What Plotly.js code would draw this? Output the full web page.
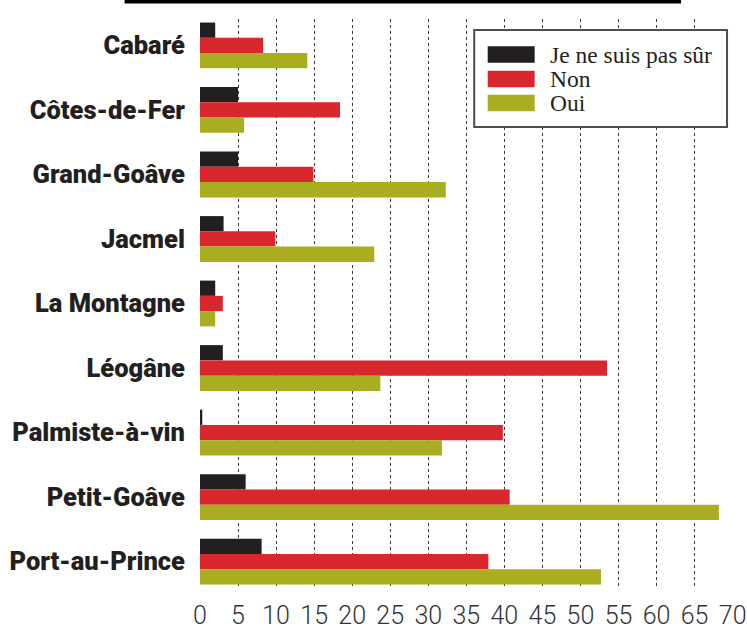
<!DOCTYPE html>
<html>
<head>
<meta charset="utf-8">
<script src="https://cdn.plot.ly/plotly-3.0.1.min.js"></script>
<style>
  html, body { margin: 0; padding: 0; background: #ffffff; }
  #chart { width: 747px; height: 630px; }
</style>
</head>
<body>
<div id="chart"></div>
<script>
const categories = ["Cabaré", "Côtes-de-Fer", "Grand-Goâve", "Jacmel", "La Montagne", "Léogâne", "Palmiste-à-vin", "Petit-Goâve", "Port-au-Prince"];
const seriesNames = ["Je ne suis pas sûr", "Non", "Oui"];
const valuesNotSure = [2, 5, 5, 3.1, 2, 3, 0.3, 6, 8.1];
const valuesNon = [8.3, 18.4, 14.9, 9.9, 3, 53.5, 39.8, 40.7, 37.9];
const valuesOui = [14.1, 5.8, 32.3, 22.9, 2, 23.7, 31.8, 68.2, 52.7];
const xTicks = [0, 5, 10, 15, 20, 25, 30, 35, 40, 45, 50, 55, 60, 65, 70];
const seriesColors = ["#231f20", "#d9272e", "#a8ae20"];

const seriesValues = [valuesNotSure, valuesNon, valuesOui];
const traces = seriesValues.map((vals, i) => ({
  type: "bar",
  orientation: "h",
  name: seriesNames[i],
  y: categories,
  x: vals,
  marker: { color: seriesColors[i], line: { width: 0 } },
  hoverinfo: "x+y+name"
}));

// manual legend (wide swatches like the reference)
const legendRows = [0.9376, 0.8946, 0.8524];
const shapes = [
  { type: "line", xref: "paper", yref: "paper", x0: -0.1415, x1: 0.9025, y0: 1.0308, y1: 1.0308,
    line: { color: "#000000", width: 4 } },
  { type: "rect", xref: "paper", yref: "paper", x0: 0.5145, x1: 0.9888, y0: 0.8102, y1: 0.9807,
    fillcolor: "#ffffff", line: { color: "#4d4d4d", width: 2 }, layer: "above" }
];
const annotations = [];
seriesNames.forEach((name, i) => {
  shapes.push({ type: "rect", xref: "paper", yref: "paper", x0: 0.5398, x1: 0.6279,
    y0: legendRows[i] - 0.0145, y1: legendRows[i] + 0.0145,
    fillcolor: seriesColors[i], line: { width: 0 }, layer: "above" });
  annotations.push({ xref: "paper", yref: "paper", x: 0.652, y: legendRows[i],
    xanchor: "left", yanchor: "middle", showarrow: false, text: name,
    font: { family: "Liberation Serif, DejaVu Serif, serif", size: 23.5, color: "#231f20" } });
});

const layout = {
  width: 747,
  height: 630,
  margin: { l: 199.5, r: 13.5, t: 19, b: 42, pad: 0 },
  paper_bgcolor: "#ffffff",
  plot_bgcolor: "#ffffff",
  barmode: "group",
  bargap: 0.29,
  bargroupgap: 0,
  showlegend: false,
  xaxis: {
    range: [0, 70.05],
    tickvals: xTicks,
    ticktext: xTicks.map(String),
    showgrid: true,
    gridcolor: "#3a3a3a",
    griddash: "dot",
    gridwidth: 1,
    zeroline: false,
    showline: false,
    ticks: "",
    ticklabelstandoff: 10,
    tickfont: { family: "Roboto, sans-serif", size: 25, color: "#333333", weight: 300 }
  },
  yaxis: {
    type: "category",
    categoryorder: "array",
    categoryarray: categories,
    range: [8.41, -0.41],
    showgrid: false,
    zeroline: false,
    showline: false,
    ticks: "",
    ticklabelstandoff: 14,
    tickfont: { family: "Roboto, Inter, sans-serif", size: 25.5, color: "#231f20", weight: 900 }
  },
  shapes: shapes,
  annotations: annotations
};

Plotly.newPlot("chart", traces, layout, { displayModeBar: false, staticPlot: true });
</script>
</body>
</html>
